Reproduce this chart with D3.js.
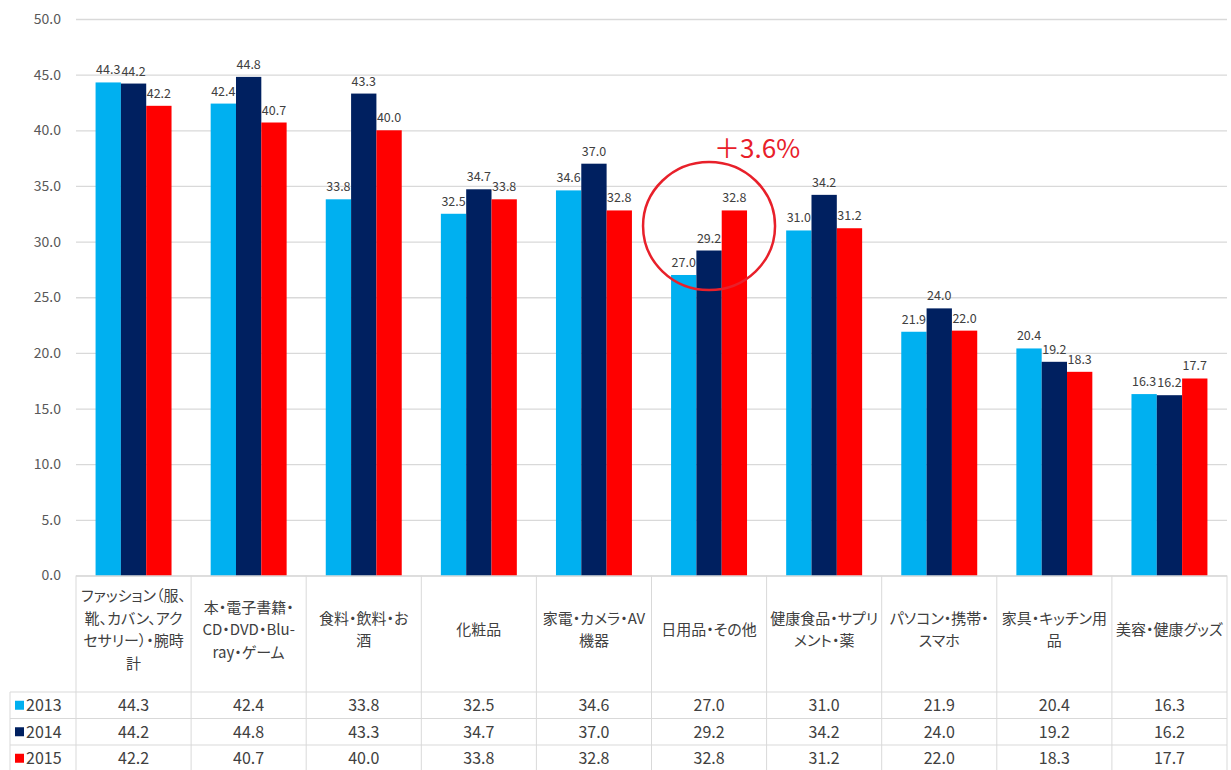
<!DOCTYPE html>
<html>
<head>
<meta charset="utf-8">
<script src="https://cdn.jsdelivr.net/npm/d3@7"></script>
<style>
  body { margin: 0; background: #fff; }
  svg { display: block; }
</style>
</head>
<body>
<svg id="chart" width="1231" height="770"></svg>
<script>
// categories (line breaks as shown in the table header)
const categories = [
  ["ファッション（服、", "靴、カバン、アク", "セサリー）・腕時", "計"],
  ["本・電子書籍・", "CD・DVD・Blu-", "ray・ゲーム"],
  ["食料・飲料・お", "酒"],
  ["化粧品"],
  ["家電・カメラ・AV", "機器"],
  ["日用品・その他"],
  ["健康食品・サプリ", "メント・薬"],
  ["パソコン・携帯・", "スマホ"],
  ["家具・キッチン用", "品"],
  ["美容・健康グッズ"]
];
const years = ["2013", "2014", "2015"];
const values2013 = [44.3, 42.4, 33.8, 32.5, 34.6, 27.0, 31.0, 21.9, 20.4, 16.3];
const values2014 = [44.2, 44.8, 43.3, 34.7, 37.0, 29.2, 34.2, 24.0, 19.2, 16.2];
const values2015 = [42.2, 40.7, 40.0, 33.8, 32.8, 32.8, 31.2, 22.0, 18.3, 17.7];
const yTicks = [0, 5, 10, 15, 20, 25, 30, 35, 40, 45, 50];
const colors = ["#00b0f0", "#002060", "#ff0000"];

const series = [values2013, values2014, values2015];
const catKeys = categories.map(function(c) { return c.join(""); });

let svg = d3.select("#chart"),
    plotLeft = 76, plotRight = 1227,
    plotTop = 19, plotBottom = 575.5,
    fontJP = "'Noto Sans CJK JP', 'Noto Sans', sans-serif",
    colorText = "#404040",
    colorGrid = "#d9d9d9";

//scales
let x0 = d3.scaleBand().domain(catKeys).range([plotLeft, plotRight]),
    x1 = d3.scaleBand().domain(years).range([x0.bandwidth() * 0.17, x0.bandwidth() * 0.83]),
    y = d3.scaleLinear().domain([0, 50]).range([plotBottom, plotTop]);

//gridlines + y labels
let yAxis = svg.append("g")
  .attr("transform", "translate(" + plotLeft + ",0)")
  .call(d3.axisLeft(y).tickValues(yTicks).tickSize(-(plotRight - plotLeft)).tickFormat(d3.format(".1f")));
yAxis.select(".domain").remove();
yAxis.selectAll(".tick line").attr("stroke", colorGrid).attr("stroke-width", 1.3);
yAxis.selectAll(".tick text")
  .attr("x", -15)
  .attr("fill", "#595959")
  .style("font", "14px " + fontJP);

//bars
let rows = [];
series.forEach(function(vals, s) {
  vals.forEach(function(v, i) { rows.push({cat: catKeys[i], year: years[s], s: s, v: v}); });
});

let bars = svg.append("g").selectAll("g")
  .data(rows)
  .enter();

bars.append("rect")
  .attr("x", function(d) { return x0(d.cat) + x1(d.year); })
  .attr("y", function(d) { return y(d.v); })
  .attr("width", x1.bandwidth())
  .attr("height", function(d) { return y(0) - y(d.v); })
  .attr("fill", function(d) { return colors[d.s]; });

bars.append("text")
  .attr("x", function(d) { return x0(d.cat) + x1(d.year) + x1.bandwidth() / 2; })
  .attr("y", function(d) { return y(d.v) - 8; })
  .attr("text-anchor", "middle")
  .attr("fill", colorText)
  .style("font", "12.5px " + fontJP)
  .text(function(d) { return d.v.toFixed(1); });

//data table under the chart
let headBottom = 692, rowH = 26.5, legendLeft = 10;
let table = svg.append("g").attr("stroke", colorGrid).attr("stroke-width", 1);

table.append("line").attr("x1", plotLeft).attr("x2", plotRight).attr("y1", plotBottom + 0.5).attr("y2", plotBottom + 0.5);
years.forEach(function(yr, s) {
  let yy = headBottom + s * rowH;
  table.append("line").attr("x1", legendLeft).attr("x2", plotRight).attr("y1", yy).attr("y2", yy);
});
table.append("line").attr("x1", legendLeft).attr("x2", legendLeft).attr("y1", headBottom).attr("y2", 770);
catKeys.forEach(function(c) {
  table.append("line").attr("x1", x0(c)).attr("x2", x0(c)).attr("y1", plotBottom).attr("y2", 770);
});
table.append("line").attr("x1", plotRight).attr("x2", plotRight).attr("y1", plotBottom).attr("y2", 770);

//category labels
let lineH = 22.5, headMid = 630;
categories.forEach(function(lines, i) {
  let t = svg.append("text")
    .attr("text-anchor", "middle")
    .attr("fill", colorText)
    .style("font-family", fontJP)
    .style("font-size", "15px")
    .style("font-feature-settings", "'palt' 1");
  lines.forEach(function(l, j) {
    t.append("tspan")
      .attr("x", x0(catKeys[i]) + x0.bandwidth() / 2)
      .attr("y", headMid + (j - (lines.length - 1) / 2) * lineH + 5)
      .text(l);
  });
});

//legend keys + values
years.forEach(function(yr, s) {
  let mid = headBottom + s * rowH + rowH / 2;
  svg.append("rect")
    .attr("x", 15).attr("y", mid - 4.5)
    .attr("width", 9).attr("height", 9)
    .attr("fill", colors[s]);
  svg.append("text")
    .attr("x", 26).attr("y", mid + 6)
    .attr("fill", colorText)
    .style("font", "16px " + fontJP)
    .text(yr);
  series[s].forEach(function(v, i) {
    svg.append("text")
      .attr("x", x0(catKeys[i]) + x0.bandwidth() / 2)
      .attr("y", mid + 6)
      .attr("text-anchor", "middle")
      .attr("fill", colorText)
      .style("font", "16px " + fontJP)
      .text(v.toFixed(1));
  });
});

//annotation on 日用品・その他
let hiCat = catKeys[5],
    cx = x0(hiCat) + x0.bandwidth() / 2,
    cy = y(31.4);
svg.append("ellipse")
  .attr("cx", cx).attr("cy", cy)
  .attr("rx", 66).attr("ry", 64)
  .attr("fill", "none")
  .attr("stroke", "#e8202a")
  .attr("stroke-width", 2.5);
svg.append("text")
  .attr("x", cx + 5).attr("y", y(37.5))
  .attr("fill", "#e8202a")
  .style("font", "26px " + fontJP)
  .text("＋3.6%");
</script>
</body>
</html>
